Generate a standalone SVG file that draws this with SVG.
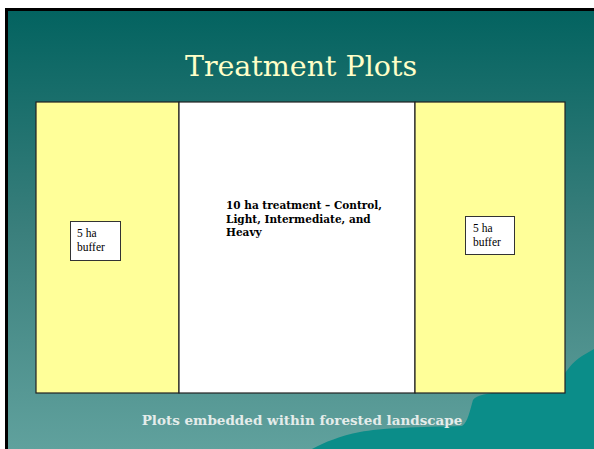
<svg xmlns="http://www.w3.org/2000/svg" width="594" height="449" viewBox="0 0 594 449">
<defs>
<linearGradient id="bg" x1="0" y1="0" x2="0" y2="1">
<stop offset="0" stop-color="#036360"/>
<stop offset="0.5" stop-color="#3a7f7c"/>
<stop offset="1" stop-color="#60a19d"/>
</linearGradient>
<style>
.plot{stroke:#222;stroke-width:1.2}
.yel{fill:#ffff99}
.box{fill:#fff;stroke:#333;stroke-width:1}
.lbl{font-family:"Liberation Serif",serif;font-size:11.5px;fill:#000}
</style>
</defs>
<rect x="0" y="0" width="594" height="449" fill="#fff"/>
<rect x="5" y="8" width="589" height="441" fill="#000"/>
<rect x="8" y="11" width="586" height="438" fill="url(#bg)"/>
<path d="M312 449 C325 442 340 436 360 432 C380 428 420 427 462 426 C468 422 470 410 473 400 C476 395 490 393 500 392 L560 380 C566 372 572 362 582 356 L594 349 L594 449 Z" fill="#0b8d89"/>
<text x="301" y="76" text-anchor="middle" font-family="'DejaVu Serif','Liberation Serif',serif" font-size="28.5" fill="#ffffc8">Treatment Plots</text>
<g id="left-buffer">
<rect class="plot yel" x="36" y="102" width="143" height="291"/>
</g>
<g id="treatment">
<rect class="plot" x="179" y="102" width="236" height="291" fill="#fff"/>
<text font-family="'DejaVu Serif','Liberation Serif',serif" font-weight="bold" font-size="10.5" fill="#000">
<tspan x="226" y="209">10 ha treatment – Control,</tspan>
<tspan x="226" y="223">Light, Intermediate, and</tspan>
<tspan x="226" y="236">Heavy</tspan>
</text>
</g>
<g id="right-buffer">
<rect class="plot yel" x="415" y="102" width="150" height="291"/>
</g>
<g id="left-label">
<rect class="box" x="70.5" y="221.5" width="50" height="39"/>
<text class="lbl"><tspan x="77" y="237">5 ha</tspan><tspan x="77" y="251">buffer</tspan></text>
</g>
<g id="right-label">
<rect class="box" x="465.5" y="216.5" width="49" height="38"/>
<text class="lbl"><tspan x="473" y="232">5 ha</tspan><tspan x="473" y="246">buffer</tspan></text>
</g>
<g id="connectors"/>
<text x="302" y="425" text-anchor="middle" font-family="'DejaVu Serif','Liberation Serif',serif" font-weight="bold" font-size="13.5" fill="#e4ecea">Plots embedded within forested landscape</text>
</svg>
